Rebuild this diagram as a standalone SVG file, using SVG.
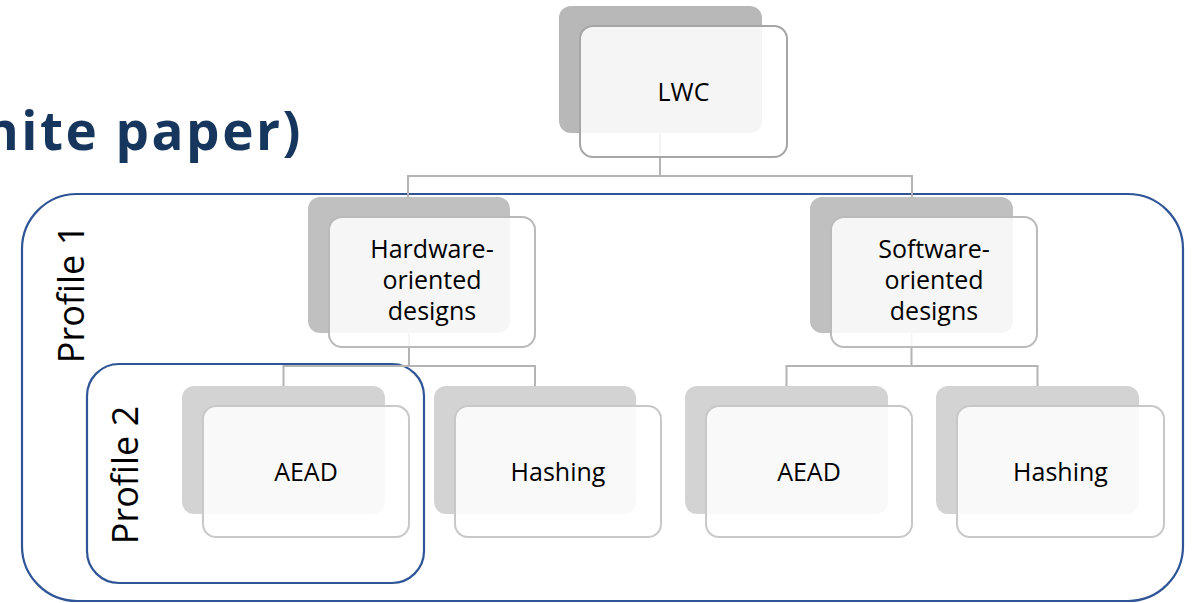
<svg xmlns="http://www.w3.org/2000/svg" width="1193" height="603" viewBox="0 0 1193 603">
  <style>
    .title { font-family: "Open Sans", "Liberation Sans", sans-serif; font-weight: 700; font-size: 53px; fill: #17365d; letter-spacing: 2.5px; }
    .lbl { font-family: "Open Sans", "Liberation Sans", sans-serif; font-size: 25px; fill: #000; text-anchor: middle; }
    .prof { font-family: "Open Sans", "Liberation Sans", sans-serif; font-size: 36px; fill: #000; text-anchor: middle; }
    .group { fill: none; stroke: #2f5597; stroke-width: 2.2; }
    .conn { fill: none; stroke: #b4b4b4; stroke-width: 2; }
    .sh0 { fill: #b8b8b8; }
    .sh1 { fill: #c0c0c0; }
    .sh2 { fill: #d3d3d3; }
    .fr { fill: #ffffff; fill-opacity: 0.86; stroke-width: 2; }
    .fr0 { stroke: #a6a6a6; }
    .fr1 { stroke: #bababa; }
    .fr2 { stroke: #c8c8c8; }
  </style>

  <rect width="1193" height="603" fill="#ffffff"/>

  <!-- heading, clipped at the left edge -->
  <text class="title" x="303" y="150" text-anchor="end">(white paper)</text>

  <!-- profile groupings -->
  <g id="profile1">
    <rect class="group" x="22" y="194" width="1161" height="407" rx="55" ry="55"/>
    <text class="prof" transform="translate(84 294) rotate(-90)">Profile 1</text>
  </g>
  <g id="profile2">
    <rect class="group" x="87" y="364" width="337" height="219" rx="32" ry="32"/>
    <text class="prof" transform="translate(138 475) rotate(-90)">Profile 2</text>
  </g>

  <!-- connectors -->
  <g id="connectors">
    <path class="conn" d="M660 133 V176 M408 197 V176 H912 V197"/>
    <path class="conn" d="M409 333 V366 M283.5 387 V366 H535 V387"/>
    <path class="conn" d="M911.5 333 V366 M786.5 387 V366 H1037.5 V387"/>
  </g>

  <!-- LWC root -->
  <g id="lwc">
    <rect class="sh0" x="559" y="6" width="203" height="127" rx="12"/>
    <rect class="fr fr0" x="580" y="26" width="207" height="131" rx="13"/>
    <text class="lbl" x="683.5" y="101">LWC</text>
  </g>

  <!-- second level -->
  <g id="hardware">
    <rect class="sh1" x="308" y="197" width="202" height="136" rx="12"/>
    <rect class="fr fr1" x="329" y="217" width="206" height="130" rx="13"/>
    <text class="lbl" x="432" y="258">Hardware-</text>
    <text class="lbl" x="432" y="289">oriented</text>
    <text class="lbl" x="432" y="320">designs</text>
  </g>
  <g id="software">
    <rect class="sh1" x="810" y="197" width="203" height="136" rx="12"/>
    <rect class="fr fr1" x="831" y="217" width="206" height="130" rx="13"/>
    <text class="lbl" x="934" y="258">Software-</text>
    <text class="lbl" x="934" y="289">oriented</text>
    <text class="lbl" x="934" y="320">designs</text>
  </g>

  <!-- third level -->
  <g id="hw-aead">
    <rect class="sh2" x="182" y="386" width="203" height="128" rx="12"/>
    <rect class="fr fr2" x="203" y="406" width="206" height="131" rx="13"/>
    <text class="lbl" x="306" y="481">AEAD</text>
  </g>
  <g id="hw-hashing">
    <rect class="sh2" x="434" y="386" width="202" height="128" rx="12"/>
    <rect class="fr fr2" x="455" y="406" width="206" height="131" rx="13"/>
    <text class="lbl" x="558" y="481">Hashing</text>
  </g>
  <g id="sw-aead">
    <rect class="sh2" x="685" y="386" width="203" height="128" rx="12"/>
    <rect class="fr fr2" x="706" y="406" width="206" height="131" rx="13"/>
    <text class="lbl" x="809" y="481">AEAD</text>
  </g>
  <g id="sw-hashing">
    <rect class="sh2" x="936" y="386" width="203" height="128" rx="12"/>
    <rect class="fr fr2" x="957" y="406" width="207" height="131" rx="13"/>
    <text class="lbl" x="1060.5" y="481">Hashing</text>
  </g>
</svg>
